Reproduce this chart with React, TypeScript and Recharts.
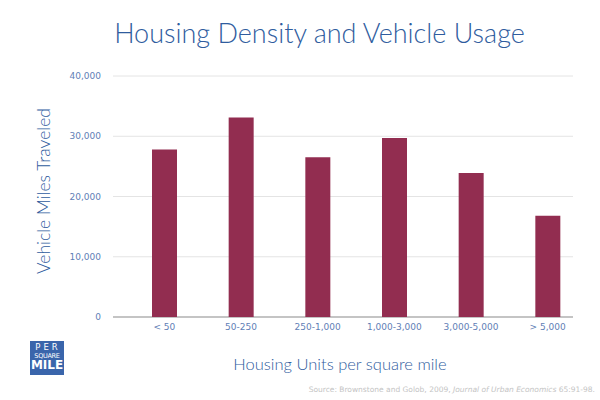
import React from 'react';
import { BarChart, Bar, XAxis, YAxis, CartesianGrid } from 'recharts';

const categories = ['< 50', '50-250', '250-1,000', '1,000-3,000', '3,000-5,000', '> 5,000'];
const milesTraveled = [27800, 33100, 26500, 29700, 23900, 16800];
const yTicks = [0, 10000, 20000, 30000, 40000];

const data = categories.map((range, i) => ({ range, miles: milesTraveled[i] }));

const BLUE = '#2f5c9e';
const TICK_BLUE = '#5f80b6';
const BAR = '#922d50';

// grid lines stop short of the right padding so they line up with the original
const gridLine = (props: any) => {
  const isBase = props.index === 0;
  return (
    <line
      key={props.key}
      x1={props.x1}
      x2={props.x2 - 13}
      y1={props.y1}
      y2={props.y2}
      stroke={isBase ? '#8a8a8a' : '#e4e4e4'}
      strokeWidth={isBase ? 1.2 : 1}
    />
  );
};

const Logo = () => (
  <div
    style={{
      position: 'absolute', left: 30, top: 341, width: 34, height: 34,
      background: '#3a65ab', color: '#fff', fontFamily: 'DejaVu Sans', textAlign: 'center',
      lineHeight: 1, boxSizing: 'border-box', paddingTop: 2,
    }}
  >
    <div style={{ fontSize: 8.5, letterSpacing: 3, paddingLeft: 2 }}>PER</div>
    <div style={{ fontSize: 6.5, letterSpacing: -0.3, marginTop: 1 }}>SQUARE</div>
    <div style={{ fontSize: 12, fontWeight: 'bold', letterSpacing: 0 }}>MILE</div>
  </div>
);

export default function App() {
  return (
    <div style={{ position: 'absolute', left: 0, top: 0, width: 600, height: 400, background: '#fff' }}>
      <div
        style={{
          position: 'absolute', left: 0, top: 16, width: 639, textAlign: 'center',
          fontFamily: 'Lato', fontWeight: 300, fontSize: 27, color: BLUE,
        }}
      >
        Housing Density and Vehicle Usage
      </div>
      <div
        style={{
          position: 'absolute', left: 43, top: 191, transform: 'translate(-50%, -50%) rotate(-90deg)',
          whiteSpace: 'nowrap', fontFamily: 'Lato', fontWeight: 300, fontSize: 17.5, color: BLUE,
        }}
      >
        Vehicle Miles Traveled
      </div>
      <BarChart
        width={600}
        height={400}
        data={data}
        margin={{ top: 76, right: 14, bottom: 53, left: 53 }}
        barSize={25}
      >
        <CartesianGrid vertical={false} horizontal={gridLine} />
        <XAxis
          dataKey="range"
          height={30}
          axisLine={false}
          tickLine={false}
          tickSize={0}
          tickMargin={7}
          padding={{ left: 13, right: 0 }}
          tick={{ fill: TICK_BLUE, fontSize: 9, fontFamily: 'DejaVu Sans' }}
          interval={0}
        />
        <YAxis
          width={60}
          domain={[0, 40000]}
          ticks={yTicks}
          axisLine={false}
          tickLine={false}
          tickSize={0}
          tickMargin={12}
          tickFormatter={(v: number) => v.toLocaleString('en-US')}
          tick={{ fill: TICK_BLUE, fontSize: 9, fontFamily: 'DejaVu Sans' }}
        />
        <Bar dataKey="miles" fill={BAR} isAnimationActive={false} />
      </BarChart>
      <div
        style={{
          position: 'absolute', left: 0, top: 354, width: 680, textAlign: 'center',
          fontFamily: 'Lato', fontWeight: 300, fontSize: 16.5, color: BLUE,
        }}
      >
        Housing Units per square mile
      </div>
      <div
        style={{
          position: 'absolute', right: 5, top: 385, whiteSpace: 'nowrap',
          fontFamily: 'DejaVu Sans', fontSize: 7.5, color: '#c4c4c4',
        }}
      >
        Source: Brownstone and Golob, 2009, <i>Journal of Urban Economics</i> 65:91-98.
      </div>
      <Logo />
    </div>
  );
}
